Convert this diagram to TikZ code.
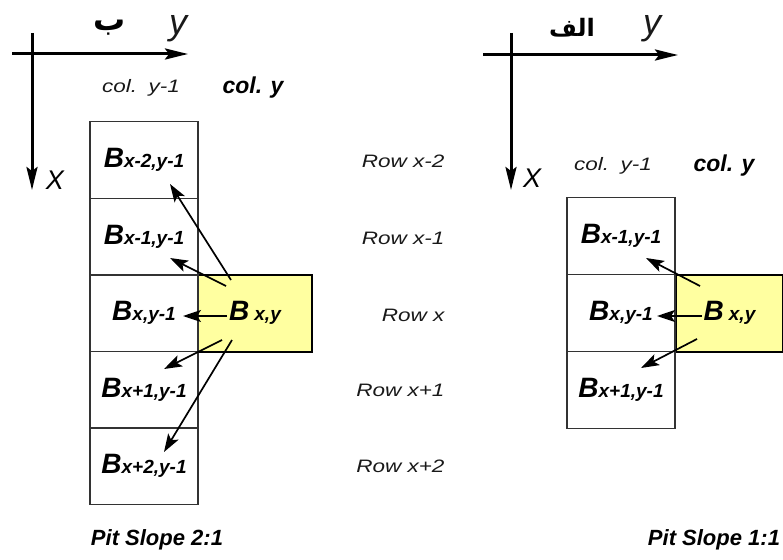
\documentclass[tikz,border=0pt]{standalone}
\usepackage{fontspec}
\setmainfont{Liberation Sans}
\newfontfamily\widefont[FakeStretch=1.25]{Liberation Sans}
\newfontfamily\arabicfont[Script=Arabic]{DejaVu Sans}
\TeXXeTstate=1
\usetikzlibrary{arrows.meta,calc}
\definecolor{pityellow}{RGB}{255,255,160}
\newcommand{\blk}[1]{{\fontsize{28}{28}\selectfont B}{\fontsize{19}{19}\selectfont #1}}

\begin{document}
\begin{tikzpicture}[x=1pt,y=-1pt,
  cell/.style={draw=black!80,line width=1.2pt,minimum width=108pt,minimum height=77pt,inner sep=0pt,font=\bfseries\itshape},
  hot/.style={cell,fill=pityellow,draw=black,line width=2pt},
  lite/.style={font=\widefont\itshape\fontsize{18}{18}\selectfont,text=black!90},
  heavy/.style={font=\bfseries\itshape\fontsize{23}{23}\selectfont},
  axislab/.style={font=\itshape\fontsize{36}{36}\selectfont,text=black!90},
  axis/.style={line width=3pt,-{Stealth[length=23pt,width=11pt,inset=4pt]}},
  ptr/.style={line width=1.7pt,-{Stealth[length=18pt,width=12pt,inset=4pt]}}]
\useasboundingbox (0,0) rectangle (783,559);
% slope 2:1
\draw[axis] (12,54) -- (188,54);
\draw[axis] (32,33) -- (32,190);
\node[axislab] (ly) at (178,29) {y};
\node[font=\itshape\fontsize{27}{27}\selectfont] (lx) at (55,180) {X};
\node[font=\arabicfont\bfseries\fontsize{32}{32}\selectfont] (lb) at (110,28) {\beginR ب\endR};
\node[lite] (lc1) at (141,88) {col.\hspace{3pt} y-1};
\node[heavy] (lc0) at (253,88) {col. y};
\node[hot,minimum width=114pt] (lxy) at (255,313) {\blk{\hspace{5pt}x,y}};
\node[cell] (l2) at (144,160) {\blk{x-2,y-1}};
\node[cell] (l1) at (144,237) {\blk{x-1,y-1}};
\node[cell] (l0) at (144,313) {\blk{x,y-1}};
\node[cell] (lp1) at (144,390) {\blk{x+1,y-1}};
\node[cell] (lp2) at (144,466) {\blk{x+2,y-1}};
\draw[ptr] ($(lxy)+(-24,-33)$) -- ($(l2)+(26,24)$);
\draw[ptr] ($(lxy)+(-29,-27)$) -- ($(l1)+(26,21)$);
\draw[ptr] ($(lxy)+(-28,3)$) -- ($(l0)+(39,3)$);
\draw[ptr] ($(lxy)+(-33,27)$) -- ($(lp1)+(20,-21)$);
\draw[ptr] ($(lxy)+(-23,27)$) -- ($(lp2)+(20,-14)$);
\node[heavy,font=\bfseries\itshape\fontsize{22}{22}\selectfont] (lt) at (157,540) {Pit Slope 2:1};
% rows
\node[lite,anchor=east] (r2) at (448,161) {Row x-2};
\node[lite,anchor=east] (r1) at (448,238) {Row x-1};
\node[lite,anchor=east] (r0) at (448,315) {Row x};
\node[lite,anchor=east] (rp1) at (448,390) {Row x+1};
\node[lite,anchor=east] (rp2) at (448,466) {Row x+2};
% slope 1:1
\draw[axis] (483,55) -- (678,55);
\draw[axis] (511,33) -- (511,190);
\node[axislab] (ry) at (652,29) {y};
\node[font=\itshape\fontsize{27}{27}\selectfont] (rx) at (532,178) {X};
\node[font=\arabicfont\bfseries\fontsize{24}{24}\selectfont] (ra) at (572,28) {\beginR الف\endR};
\node[lite] (rc1) at (613,166) {col.\hspace{3pt} y-1};
\node[heavy] (rc0) at (724,166) {col. y};
\node[hot,minimum width=107pt] (rxy) at (729.5,313) {\blk{\hspace{5pt}x,y}};
\node[cell] (s1) at (621,236) {\blk{x-1,y-1}};
\node[cell] (s0) at (621,313) {\blk{x,y-1}};
\node[cell] (sp1) at (621,390) {\blk{x+1,y-1}};
\draw[ptr] ($(rxy)+(-29.5,-27)$) -- ($(s1)+(25,22)$);
\draw[ptr] ($(rxy)+(-27.5,3)$) -- ($(s0)+(36,3)$);
\draw[ptr] ($(rxy)+(-32.5,26)$) -- ($(sp1)+(20,-22)$);
\node[heavy,font=\bfseries\itshape\fontsize{22}{22}\selectfont] (rt) at (714,540) {Pit Slope 1:1};
\end{tikzpicture}
\end{document}
